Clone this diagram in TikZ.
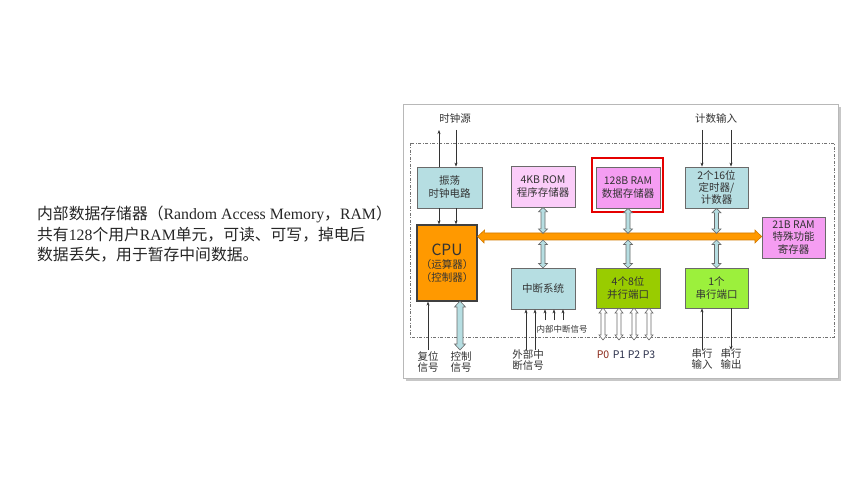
\documentclass[tikz,border=0pt]{standalone}
\usepackage{fontspec}
\setmainfont{Liberation Serif}
\newfontfamily\cjk{Noto Sans CJK SC}
\usetikzlibrary{arrows.meta}
\definecolor{cyanbox}{HTML}{B6DEE2}
\definecolor{rompink}{HTML}{FBCDF9}
\definecolor{rampink}{HTML}{F59DF2}
\definecolor{cpuor}{HTML}{FF9900}
\definecolor{busedge}{HTML}{D27A00}
\definecolor{pgreen}{HTML}{99CC00}
\definecolor{sgreen}{HTML}{9CF03C}
\definecolor{edgegray}{HTML}{6A6A6A}
\definecolor{txtgray}{HTML}{333333}
\definecolor{pred}{HTML}{8A2A1A}
\definecolor{pblue}{HTML}{2A2F4A}
\tikzset{
  box/.style={draw=edgegray, line width=0.8bp, align=center, inner sep=1bp,
    font=\cjk\fontsize{10.5bp}{13bp}\selectfont, text=txtgray},
  lbl/.style={align=center, inner sep=0pt, font=\cjk\fontsize{10.5bp}{11.5bp}\selectfont, text=txtgray},
  sig/.style={draw=txtgray, line width=0.6bp, -{Stealth[length=4bp,width=3bp]}},
  desc/.style={anchor=base west, inner sep=0pt, text=black!85, font=\fontsize{15.8bp}{20.5bp}\selectfont},
  pics/vdarr/.style n args={5}{code={
    \filldraw[fill=#2, draw=edgegray, line width=0.6bp]
      (0,0) -- (#3,#5) -- (#4,#5) -- (#4,{#1-#5}) -- (#3,{#1-#5}) -- (0,#1)
      -- (-#3,{#1-#5}) -- (-#4,{#1-#5}) -- (-#4,#5) -- (-#3,#5) -- cycle;}}
}
\begin{document}
\begin{tikzpicture}[x=1bp,y=-1bp]
\useasboundingbox (0,0) rectangle (860,484);
\fill[white] (0,0) rectangle (860,484);

% left description
\node[desc] (d1) at (37,220) {{\cjk 内部数据存储器（}Random Access Memory{\cjk ，}RAM{\cjk ）}};
\node[desc] (d2) at (37,240.5) {{\cjk 共有}128{\cjk 个用户}RAM{\cjk 单元，可读、可写，掉电后}};
\node[desc] (d3) at (37,261) {{\cjk 数据丢失，用于暂存中间数据。}};

% picture frame
\fill[black!22] (406,107) rectangle (841,381);
\filldraw[fill=white, draw=black!28, line width=0.8bp] (403,104) rectangle (838,378);

% chip boundary
\draw[black!55, line width=0.7bp, dash pattern=on 3bp off 1.5bp on 1bp off 1.5bp]
  (410,143) rectangle (834,337);

% bus coordinates
\coordinate (bt) at (0,233);
\coordinate (bb) at (0,240);

% boxes
\node[box, fill=cyanbox, minimum width=65bp, minimum height=41bp] (osc) at (449.5,187.5) {振荡\\时钟电路};
\node[box, fill=cpuor, draw=black!75, line width=1.2bp, minimum width=60bp, minimum height=76bp] (cpu) at (447,263)
  {{\fontsize{15.5bp}{15.5bp}\selectfont CPU}\\（运算器）\\（控制器）};
\node[box, fill=rompink, minimum width=64bp, minimum height=41bp] (rom) at (543,186.5) {4KB ROM\\程序存储器};
\node[box, fill=rampink, minimum width=64bp, minimum height=41bp] (ram) at (628,187.5) {128B RAM\\数据存储器};
\node[box, fill=cyanbox, minimum width=63bp, minimum height=41bp, font=\cjk\fontsize{10.5bp}{12bp}\selectfont] (tmr) at (716.5,187.5) {2个16位\\定时器/\\计数器};
\node[box, fill=rampink, minimum width=63bp, minimum height=41bp, font=\cjk\fontsize{10.5bp}{12.5bp}\selectfont] (r21) at (793.5,237.5) {21B RAM\\特殊功能\\寄存器};
\node[box, fill=cyanbox, minimum width=64bp, minimum height=41bp] (irq) at (543,288.5) {中断系统};
\node[box, fill=pgreen, minimum width=64bp, minimum height=40bp] (par) at (628,288) {4个8位\\并行端口};
\node[box, fill=sgreen, minimum width=63bp, minimum height=40bp] (ser) at (716.5,288) {1个\\串行端口};

% highlight around data RAM
\draw[red!90!black, line width=1.6bp] (592,158) rectangle (663,212);

% internal bus
\filldraw[fill=cpuor, draw=busedge, line width=0.6bp]
  (cpu.east |- 0,236.5) -- ++(7,-6.5) -- ++(0,3) -- (755,233) -- (755,230)
  -- (r21.west |- 0,236.5) -- (755,243) -- (755,240) -- (484,240) -- (484,243) -- cycle;

% bus links
\path (rom.south) pic {vdarr={26}{cyanbox}{4.5}{2}{4.5}};
\path (rom.south |- bb) pic {vdarr={28}{cyanbox}{4.5}{2}{4.5}};
\path (ram.south) pic {vdarr={25}{cyanbox}{4.5}{2}{4.5}};
\path (ram.south |- bb) pic {vdarr={28}{cyanbox}{4.5}{2}{4.5}};
\path (tmr.south) pic {vdarr={25}{cyanbox}{4.5}{2}{4.5}};
\path (tmr.south |- bb) pic {vdarr={28}{cyanbox}{4.5}{2}{4.5}};

% clock source
\node[lbl] (clk) at (455,119) {时钟源};
\coordinate (a1) at (439,130);
\coordinate (a2) at (456,130);
\draw[sig] (osc.north -| a1) -- (a1);
\draw[sig] (a2) -- (osc.north -| a2);
\draw[sig] (osc.south -| a1) -- (cpu.north -| a1);
\draw[sig] (osc.south -| a2) -- (cpu.north -| a2);

% count input
\node[lbl] (cnt) at (716,119) {计数输入};
\coordinate (b1) at (702,130);
\coordinate (b2) at (731,130);
\draw[sig] (b1) -- (tmr.north -| b1);
\draw[sig] (b2) -- (tmr.north -| b2);

% reset and control
\coordinate (r1) at (428,350);
\draw[sig] (r1) -- (cpu.south -| r1);
\node[lbl] (rst) at (428,362) {复位\\信号};
\coordinate (c1) at (460,301);
\path (c1) pic {vdarr={49}{cyanbox}{5.5}{3}{6}};
\node[lbl] (ctl) at (461,362) {控制\\信号};

% interrupts
\coordinate (e1) at (526,350);
\coordinate (e2) at (535,350);
\draw[sig] (e1) -- (irq.south -| e1);
\draw[sig] (e2) -- (irq.south -| e2);
\coordinate (i1) at (545,320);
\coordinate (i2) at (554,320);
\coordinate (i3) at (563,320);
\draw[sig] (i1) -- (irq.south -| i1);
\draw[sig] (i2) -- (irq.south -| i2);
\draw[sig] (i3) -- (irq.south -| i3);
\node[lbl, font=\cjk\fontsize{8.5bp}{10bp}\selectfont] (intl) at (562,329) {内部中断信号};
\node[lbl] (ext) at (528,360) {外部中\\断信号};

% parallel ports
\coordinate (p0) at (603,308);
\coordinate (p1) at (619,308);
\coordinate (p2) at (634,308);
\coordinate (p3) at (649,308);
\path (p0) pic {vdarr={32}{white}{4}{2}{5}};
\path (p1) pic {vdarr={32}{white}{4}{2}{5}};
\path (p2) pic {vdarr={32}{white}{4}{2}{5}};
\path (p3) pic {vdarr={32}{white}{4}{2}{5}};
\node[lbl, text=pred] (lp0) at (603,355) {P0};
\node[lbl, text=pblue] (lp1) at (619,355) {P1};
\node[lbl, text=pblue] (lp2) at (634,355) {P2};
\node[lbl, text=pblue] (lp3) at (649,355) {P3};

% serial port
\coordinate (s1) at (702,350);
\coordinate (s2) at (731,350);
\draw[sig] (s1) -- (ser.south -| s1);
\draw[sig] (ser.south -| s2) -- (s2);
\node[lbl] (sin) at (702,359) {串行\\输入};
\node[lbl] (sout) at (731,359) {串行\\输出};
\end{tikzpicture}
\end{document}
